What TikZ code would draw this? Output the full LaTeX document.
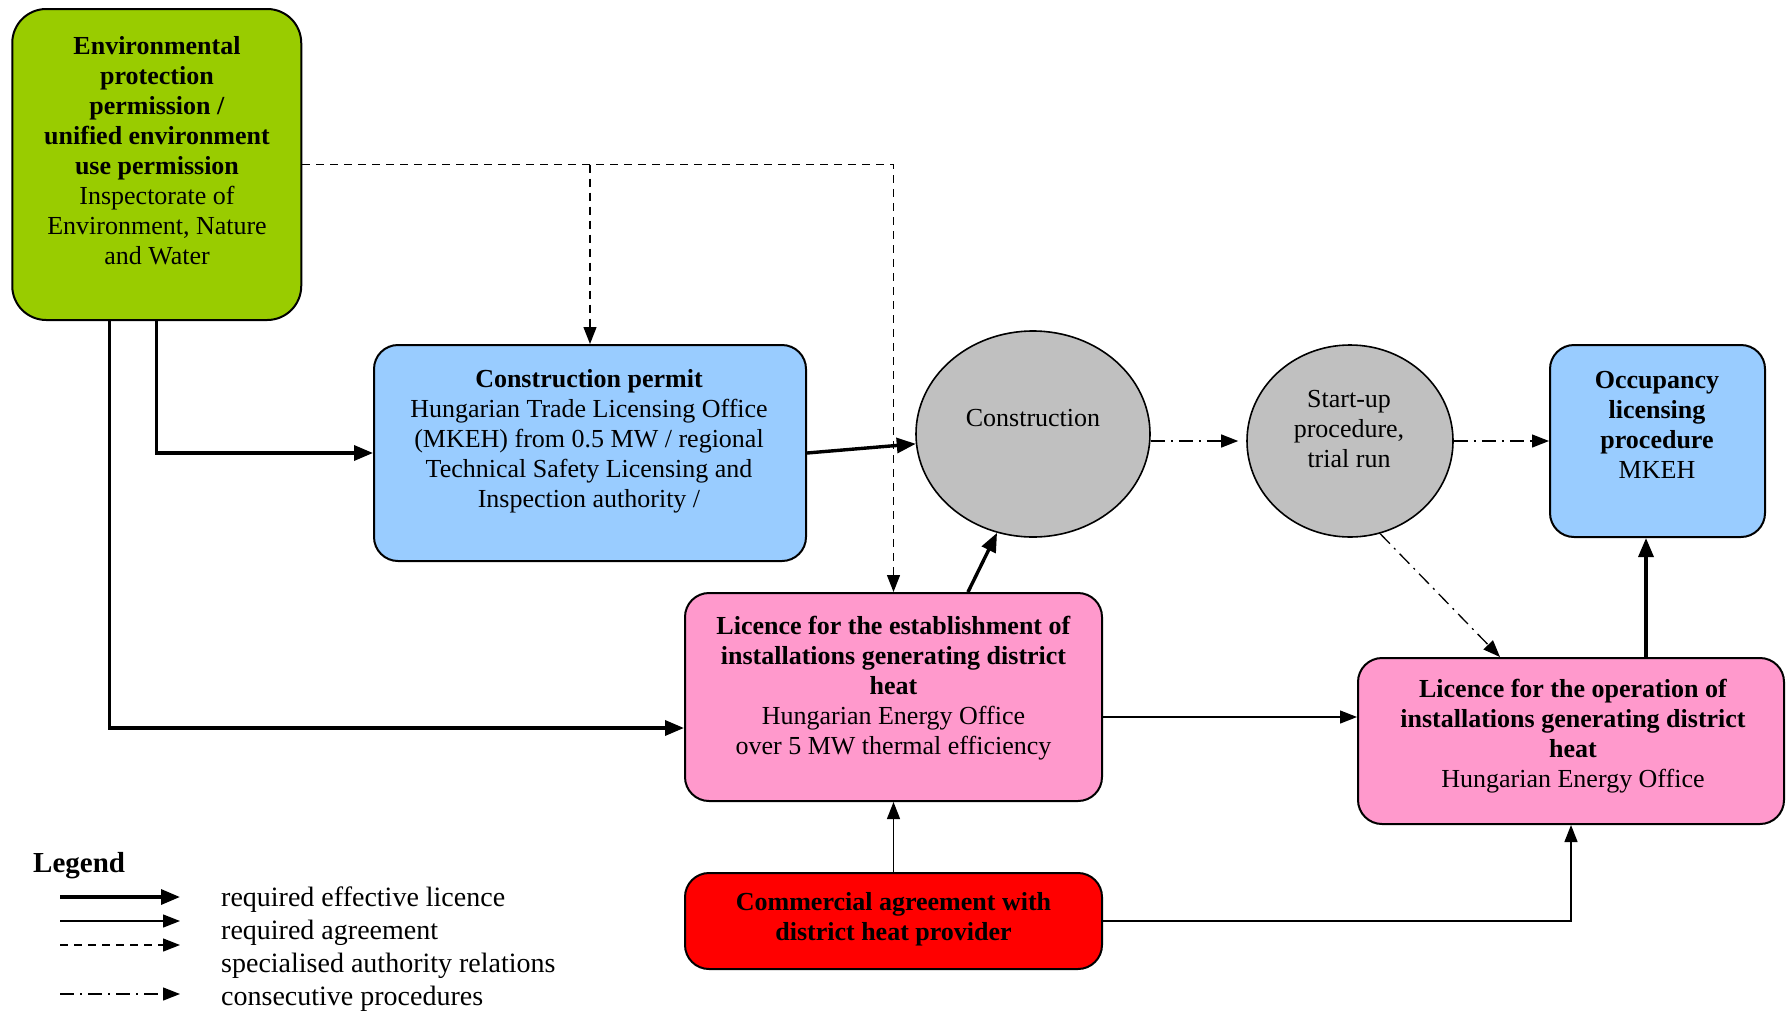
\documentclass[tikz,border=0pt]{standalone}
\usepackage{fontspec}
\setmainfont{Liberation Serif}
\usetikzlibrary{arrows.meta,shapes.geometric}
\definecolor{envgreen}{HTML}{99CC00}
\definecolor{permblue}{HTML}{99CCFF}
\definecolor{licpink}{HTML}{FF99CC}
\definecolor{procgray}{HTML}{C0C0C0}
\definecolor{agreered}{HTML}{FF0000}
\tikzset{
  box/.style={draw, line width=2pt, rounded corners=24pt, inner sep=0pt},
  proc/.style={draw, ellipse, line width=1.6pt, fill=procgray, inner sep=0pt},
  txt/.style={align=center, inner sep=0pt, yshift=-3pt, font=\fontsize{26}{30}\selectfont},
  keytxt/.style={txt, anchor=west, font=\fontsize{28}{30}\selectfont},
  licence/.style={line width=3.4pt, -{Triangle[length=19pt,width=15pt]}},
  agree/.style={line width=1.3pt, -{Triangle[length=17pt,width=13pt]}},
  auth/.style={line width=1.3pt, dash pattern=on 8pt off 6pt, -{Triangle[length=17pt,width=13pt]}},
  consec/.style={line width=1.3pt, dash pattern=on 14pt off 6pt on 2pt off 6pt, -{Triangle[length=17pt,width=13pt]}}
}
\begin{document}
\begin{tikzpicture}[x=1pt, y=-1pt]
  \useasboundingbox (0,0) rectangle (1787,1012);
  % boxes
  \node[box, fill=envgreen, rounded corners=34pt, minimum width=289pt, minimum height=311pt] (env) at (156.75,164.5) {};
  \node[box, fill=permblue, minimum width=432pt, minimum height=216pt] (cperm) at (590,453) {};
  \node[proc, minimum width=234pt, minimum height=206pt] (constr) at (1033,434) {};
  \node[proc, minimum width=206pt, minimum height=192pt] (startup) at (1350,441) {};
  \node[box, fill=permblue, minimum width=215pt, minimum height=192pt] (occup) at (1657.5,441) {};
  \node[box, fill=licpink, minimum width=417pt, minimum height=208pt] (estab) at (893.5,697) {};
  \node[box, fill=licpink, minimum width=426pt, minimum height=166pt] (oper) at (1571,741) {};
  \node[box, fill=agreered, minimum width=417pt, minimum height=96pt] (comm) at (893.5,921) {};
  % texts
  \node[txt] (envtxt) at (157,148) {\textbf{Environmental}\\\textbf{protection}\\\textbf{permission /}\\\textbf{unified environment}\\\textbf{use permission}\\Inspectorate of\\Environment, Nature\\and Water};
  \node[txt] (cpermtxt) at (589,438) {\textbf{Construction permit}\\Hungarian Trade Licensing Office\\(MKEH) from 0.5 MW / regional\\Technical Safety Licensing and\\Inspection authority /};
  \node[txt] (constrtxt) at (1033,415) {Construction};
  \node[txt] (startuptxt) at (1349,426) {Start-up\\procedure,\\trial run};
  \node[txt] (occuptxt) at (1657,422) {\textbf{Occupancy}\\\textbf{licensing}\\\textbf{procedure}\\MKEH};
  \node[txt] (estabtxt) at (893.5,685.5) {\textbf{Licence for the establishment of}\\\textbf{installations generating district}\\\textbf{heat}\\Hungarian Energy Office\\over 5 MW thermal efficiency};
  \node[txt] (opertxt) at (1573,733) {\textbf{Licence for the operation of}\\\textbf{installations generating district}\\\textbf{heat}\\Hungarian Energy Office};
  \node[txt] (commtxt) at (893.5,916) {\textbf{Commercial agreement with}\\\textbf{district heat provider}};
  % connectors
  \draw[auth] (env.east) -- (estab.north |- env.east) -- (estab.north);
  \draw[auth] (cperm.north |- env.east) -- (cperm.north);
  \draw[licence] (env.south) |- (cperm.west);
  \draw[licence] ([xshift=-47pt]env.south) |- ([yshift=-31pt]estab.west);
  \draw[licence] (cperm.east) -- (constr);
  \draw[licence] ([xshift=74.5pt]estab.north) -- (constr.-110);
  \draw[consec] (constr.east |- startup.west) -- ([xshift=-8pt]startup.west);
  \draw[consec] (startup.east) -- (occup.west);
  \draw[consec] (startup.-72) -- ([xshift=-71pt]oper.north);
  \draw[licence] ([xshift=75pt]oper.north) -- ([xshift=75pt]oper.north |- occup.south);
  \draw[agree] ([yshift=-20pt]estab.east) -- ([yshift=-20pt]estab.east -| oper.west);
  \draw[agree] (comm.north) -- (estab.south);
  \draw[agree] (comm.east) -| (oper.south);
  % legend
  \node[txt, anchor=west, font=\fontsize{29}{30}\selectfont] (legend) at (33,863) {\textbf{Legend}};
  \coordinate (k1) at (60,897);
  \coordinate (k2) at (60,921);
  \coordinate (k3) at (60,945);
  \coordinate (k4) at (60,994);
  \draw[licence] (k1) -- ++(120,0);
  \draw[agree] (k2) -- ++(120,0);
  \draw[auth] (k3) -- ++(120,0);
  \draw[consec] (k4) -- ++(120,0);
  \node[keytxt] (key1) at (221,897) {required effective licence};
  \node[keytxt] (key2) at (221,930) {required agreement};
  \node[keytxt] (key3) at (221,963) {specialised authority relations};
  \node[keytxt] (key4) at (221,996) {consecutive procedures};
\end{tikzpicture}
\end{document}
